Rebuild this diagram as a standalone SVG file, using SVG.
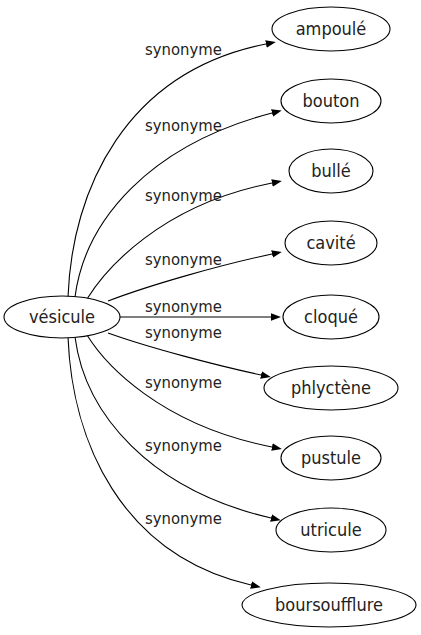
<svg xmlns="http://www.w3.org/2000/svg" width="421" height="635" viewBox="0 0 421 635">
<defs>
<style>
.node ellipse{fill:#fff;stroke:#000;stroke-width:1.1}
.node text{font-family:"DejaVu Sans Condensed","DejaVu Sans",sans-serif;font-stretch:condensed;font-size:18px;text-anchor:middle;fill:#222}
.edges path{fill:none;stroke:#000;stroke-width:1.1}
.edges text{font-family:"DejaVu Sans Condensed","DejaVu Sans",sans-serif;font-stretch:condensed;font-size:16.5px;fill:#222}
</style>
<marker id="arr" markerUnits="userSpaceOnUse" markerWidth="11" markerHeight="9" viewBox="0 -4.5 11 9" refX="0" refY="0" orient="auto">
<path d="M0,-3.8 L10,0 L0,3.8 Z" fill="#000"/>
</marker>
</defs>
<rect width="421" height="635" fill="#fff"/>
<g class="edges" id="edges">
<path marker-end="url(#arr)" d="M68,297 C72,190 125,72 266,44"/>
<path marker-end="url(#arr)" d="M75,297 C85,220 150,145 272,113"/>
<path marker-end="url(#arr)" d="M87,299 C105,270 160,205 272,183"/>
<path marker-end="url(#arr)" d="M108,301 C150,285 220,265 272,254"/>
<path marker-end="url(#arr)" d="M120,317 L271,317"/>
<path marker-end="url(#arr)" d="M108,333 C150,348 215,365 261,375"/>
<path marker-end="url(#arr)" d="M87,335 C105,364 160,425 272,447"/>
<path marker-end="url(#arr)" d="M75,337 C85,414 150,490 271,518"/>
<path marker-end="url(#arr)" d="M68,337 C72,440 120,555 251,585"/>
<text x="145" y="55">synonyme</text>
<text x="145" y="131">synonyme</text>
<text x="145" y="201">synonyme</text>
<text x="145" y="265">synonyme</text>
<text x="145" y="312">synonyme</text>
<text x="145" y="338">synonyme</text>
<text x="145" y="388">synonyme</text>
<text x="145" y="451">synonyme</text>
<text x="145" y="524">synonyme</text>
</g>
<g class="node" id="n-vesicule"><ellipse cx="62" cy="317" rx="58" ry="21"/><text x="62" y="323">vésicule</text></g>
<g class="node" id="n-ampoule"><ellipse cx="331" cy="29" rx="59" ry="22"/><text x="331" y="35">ampoulé</text></g>
<g class="node" id="n-bouton"><ellipse cx="331" cy="101" rx="50" ry="22"/><text x="331" y="107">bouton</text></g>
<g class="node" id="n-bulle"><ellipse cx="331" cy="171" rx="42" ry="22"/><text x="331" y="177">bullé</text></g>
<g class="node" id="n-cavite"><ellipse cx="331" cy="243" rx="46" ry="22"/><text x="331" y="249">cavité</text></g>
<g class="node" id="n-cloque"><ellipse cx="331" cy="317" rx="48" ry="22"/><text x="331" y="323">cloqué</text></g>
<g class="node" id="n-phlyctene"><ellipse cx="331" cy="388" rx="67" ry="22"/><text x="331" y="394">phlyctène</text></g>
<g class="node" id="n-pustule"><ellipse cx="331" cy="458" rx="50" ry="22"/><text x="331" y="464">pustule</text></g>
<g class="node" id="n-utricule"><ellipse cx="331" cy="530" rx="55" ry="22"/><text x="331" y="536">utricule</text></g>
<g class="node" id="n-boursoufflure"><ellipse cx="329" cy="605" rx="87" ry="22"/><text x="329" y="611">boursoufflure</text></g>
</svg>
